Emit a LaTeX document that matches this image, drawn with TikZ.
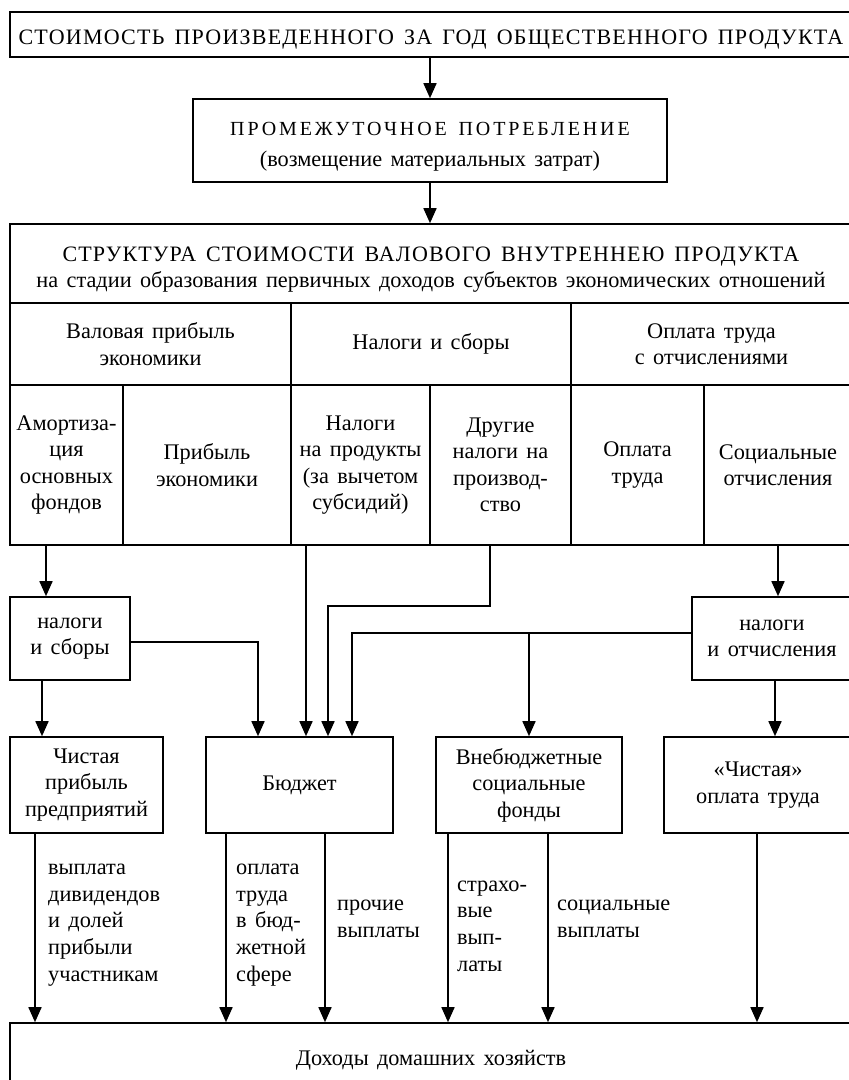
\documentclass[tikz,border=0pt]{standalone}
\usepackage{fontspec}
\setmainfont{Liberation Serif}[WordSpace=1.5]
\usetikzlibrary{arrows.meta}

\begin{document}
\begin{tikzpicture}[x=1pt,y=-1pt,
  box/.style={draw,line width=1.6pt,inner sep=0pt,align=center,font=\fontsize{22.3}{26.5}\selectfont},
  txt/.style={inner sep=0pt,align=center,font=\fontsize{22.3}{26.5}\selectfont},
  arr/.style={line width=1.6pt,-{Triangle[width=13pt,length=15pt]}},
  lbl/.style={anchor=west,align=left,inner sep=0pt,font=\fontsize{22.3}{26.7}\selectfont}]
\useasboundingbox (0,0) rectangle (849,1080);
%boxes
\node (top) [box,minimum width=842,minimum height=45] at (431,34.5) {};
\node (toptext) [txt] at ([yshift=-5]top.center) {\fontsize{22}{26}\selectfont\addfontfeature{LetterSpace=5.6}СТОИМОСТЬ ПРОИЗВЕДЕННОГО ЗА ГОД ОБЩЕСТВЕННОГО ПРОДУКТА};
\node (prom) [box,minimum width=474,minimum height=83] at (430,140.5) {};
\node (promtext) [txt] at ([yshift=-6]prom.center) {{\fontsize{20}{24}\selectfont\addfontfeature{LetterSpace=14.4}ПРОМЕЖУТОЧНОЕ ПОТРЕБЛЕНИЕ}\\[4pt](возмещение материальных затрат)};
\node (struct) [box,minimum width=842,minimum height=79] at (431,263.5) {};
\node (structtext) [txt] at ([yshift=-6]struct.center) {{\fontsize{22}{26}\selectfont\addfontfeature{LetterSpace=5.2}СТРУКТУРА СТОИМОСТИ ВАЛОВОГО ВНУТРЕННЕЮ ПРОДУКТА}\\на стадии образования первичных доходов субъектов экономических отношений};
%table
\node (g1) [box,minimum width=281,minimum height=82] at (150.5,344) {Валовая прибыль\\экономики};
\node (g2) [box,minimum width=280,minimum height=82] at (431,344) {Налоги и сборы};
\node (g3) [box,minimum width=281,minimum height=82] at (711.5,344) {Оплата труда\\с отчислениями};
\node (c1) [box,minimum width=113,minimum height=160] at (66.5,465) {Амортиза-\\ция\\основных\\фондов};
\node (c2) [box,minimum width=168,minimum height=160] at (207,465) {Прибыль\\экономики};
\node (c3) [box,minimum width=139,minimum height=160] at (360.5,465) {Налоги\\на продукты\\(за вычетом\\субсидий)};
\node (c4) [box,minimum width=141,minimum height=160] at (500.5,465) {Другие\\налоги на\\производ-\\ство};
\node (c5) [box,minimum width=133,minimum height=160] at (637.5,465) {Оплата\\труда};
\node (c6) [box,minimum width=148,minimum height=160] at (778,465) {Социальные\\отчисления};
%middle
\node (tax1) [box,minimum width=120,minimum height=83] at (70,638.5) {налоги\\и сборы};
\node (tax2) [box,minimum width=160,minimum height=83] at (772,638.5) {налоги\\и отчисления};
\node (net1) [box,minimum width=153,minimum height=96] at (86.5,785) {Чистая\\прибыль\\предприятий};
\node (budget) [box,minimum width=187,minimum height=96] at (299.5,785) {Бюджет};
\node (ext) [box,minimum width=186,minimum height=96] at (529,785) {Внебюджетные\\социальные\\фонды};
\node (net2) [box,minimum width=188,minimum height=96] at (758,785) {«Чистая»\\оплата труда};
\node (income) [box,minimum width=842,minimum height=74] at (431,1060) {Доходы домашних хозяйств};
%arrows
\coordinate (b1) at ([xshift=-41.5]budget.north);
\coordinate (b2) at ([xshift=6.5]budget.north);
\coordinate (b3) at ([xshift=28.5]budget.north);
\coordinate (b4) at ([xshift=52.5]budget.north);
\draw[arr] (prom.north |- top.south) -- (prom.north);
\draw[arr] (prom.south) -- (prom.south |- struct.north);
\draw[arr] ([xshift=-20.5]c1.south) -- ([xshift=-20.5]c1.south |- tax1.north);
\draw[arr] ([xshift=-28]tax1.south) -- ([xshift=-28]tax1.south |- net1.north);
\draw[arr] ([yshift=-3.5]tax1.east) -| (b1);
\draw[arr] (c3.south -| b2) -- (b2);
\draw[arr] ([xshift=-10.5]c4.south) -- ++(0,60) -| (b3);
\draw[arr] ([yshift=5.5]tax2.west) -| (b4);
\draw[arr] ([yshift=5.5]tax2.west -| ext.north) -- (ext.north);
\draw[arr] (c6.south) -- (c6.south |- tax2.north);
\draw[arr] ([xshift=3]tax2.south) -- ([xshift=3]tax2.south |- net2.north);
\draw[arr] ([xshift=-51.5]net1.south) -- ([xshift=-51.5]net1.south |- income.north);
\draw[arr] ([xshift=-73.5]budget.south) -- ([xshift=-73.5]budget.south |- income.north);
\draw[arr] ([xshift=25.5]budget.south) -- ([xshift=25.5]budget.south |- income.north);
\draw[arr] ([xshift=-81]ext.south) -- ([xshift=-81]ext.south |- income.north);
\draw[arr] ([xshift=19]ext.south) -- ([xshift=19]ext.south |- income.north);
\draw[arr] ([xshift=-1]net2.south) -- ([xshift=-1]net2.south |- income.north);
%payments
\node (pay1) [lbl] at (48,925) {выплата\\дивидендов\\и долей\\прибыли\\участникам};
\node (pay2) [lbl] at (236,925) {оплата\\труда\\в бюд-\\жетной\\сфере};
\node (pay3) [lbl] at (337,919) {прочие\\выплаты};
\node (pay4) [lbl] at (457,926) {страхо-\\вые\\вып-\\латы};
\node (pay5) [lbl] at (557,919) {социальные\\выплаты};
\end{tikzpicture}
\end{document}
